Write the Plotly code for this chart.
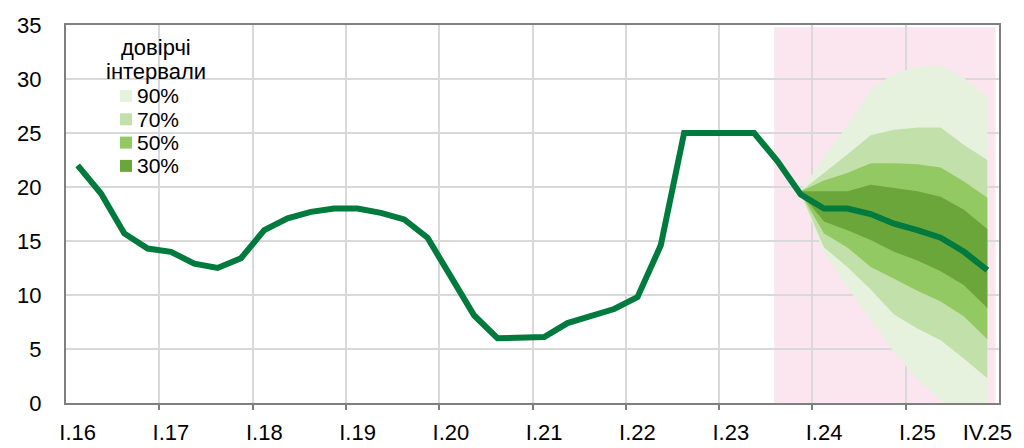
import plotly.graph_objects as go

# ---------------- data ----------------
quarters = [
    "I.16", "II.16", "III.16", "IV.16", "I.17", "II.17", "III.17", "IV.17",
    "I.18", "II.18", "III.18", "IV.18", "I.19", "II.19", "III.19", "IV.19",
    "I.20", "II.20", "III.20", "IV.20", "I.21", "II.21", "III.21", "IV.21",
    "I.22", "II.22", "III.22", "IV.22", "I.23", "II.23", "III.23", "IV.23",
    "I.24", "II.24", "III.24", "IV.24", "I.25", "II.25", "III.25", "IV.25",
]
rate = [
    22.0, 19.4, 15.7, 14.3, 14.0, 12.9, 12.5, 13.4,
    16.0, 17.1, 17.7, 18.0, 18.0, 17.6, 17.0, 15.3,
    11.7, 8.1, 6.0, 6.0, 6.1, 7.4, 8.1, 8.7,
    9.8, 14.6, 25.0, 25.0, 25.0, 25.0, 22.4, 19.3,
    18.0, 18.0, 17.5, 16.6, 16.0, 15.3, 14.0, 12.3,
]
fan_quarters = ["IV.23", "I.24", "II.24", "III.24", "IV.24", "I.25", "II.25", "III.25", "IV.25"]
upper90 = [19.6, 22.8, 25.7, 29.0, 30.5, 31.1, 31.3, 30.1, 28.3]
upper70 = [19.6, 21.3, 23.0, 24.8, 25.3, 25.5, 25.5, 23.9, 22.5]
upper50 = [19.6, 20.6, 21.3, 22.2, 22.2, 22.1, 21.8, 20.5, 19.0]
upper30 = [19.6, 19.6, 19.6, 20.2, 19.9, 19.6, 19.1, 17.9, 16.1]
lower30 = [19.4, 16.8, 16.0, 15.1, 14.0, 13.2, 12.2, 10.9, 8.8]
lower50 = [19.4, 15.7, 14.4, 12.6, 11.5, 10.4, 9.4, 8.0, 5.9]
lower70 = [19.4, 14.4, 12.6, 10.5, 8.2, 6.9, 5.8, 4.1, 2.3]
lower90 = [19.4, 13.9, 10.7, 7.7, 4.7, 2.2, 0.2, -1.0, -2.0]
band_labels = ["90%", "70%", "50%", "30%"]
tick_labels = ["I.16", "I.17", "I.18", "I.19", "I.20", "I.21", "I.22", "I.23", "I.24", "I.25", "IV.25"]
legend_title = ["довірчі", "інтервали"]
forecast_start = "III.23"

# ---------------- styling ----------------
FONT = "Liberation Sans, Arial, sans-serif"
band_colors = ["#E6F2DE", "#C2E0A9", "#93C963", "#6BA63B"]
line_color = "#007A3D"
grid_color = "#D9D9D9"
frame_color = "#7F7F7F"
pink = "#FBE5EE"

pos = {q: i for i, q in enumerate(quarters)}
x_all = [pos[q] for q in quarters]
x_fan = [pos[q] for q in fan_quarters]
grid_x = [pos[t] - 0.5 for t in tick_labels[1:-1]]
label_x = [pos[t] for t in tick_labels]
xr = [-0.5, len(quarters) - 0.5]

fig = go.Figure()

bands = [(lower90, upper90), (lower70, upper70), (lower50, upper50), (lower30, upper30)]
for (lo, hi), col in zip(bands, band_colors):
    fig.add_trace(go.Scatter(x=x_fan, y=lo, mode="lines", line=dict(width=0, color=col),
                             hoverinfo="skip", showlegend=False))
    fig.add_trace(go.Scatter(x=x_fan, y=hi, mode="lines", line=dict(width=0, color=col),
                             fill="tonexty", fillcolor=col, hoverinfo="skip", showlegend=False))

fig.add_trace(go.Scatter(x=x_all, y=rate, mode="lines", xaxis="x2",
                         line=dict(color=line_color, width=6), showlegend=False))

# forecast background
fig.add_shape(type="rect", xref="x", yref="y", x0=pos[forecast_start] - 0.14, x1=len(quarters) - 0.65,
              y0=0, y1=34.8, fillcolor=pink, line=dict(width=0), layer="below")

# custom legend
L, R, T, B = 66, 999, 25, 403
def px(xp):
    return (xp - L) / (R - L)
def py(yp):
    return (B - yp) / (B - T)

for i, txt in enumerate(legend_title):
    fig.add_annotation(x=px(156), y=py(47 + 25 * i), xref="paper", yref="paper", text=txt,
                       showarrow=False, xanchor="center", yanchor="middle",
                       font=dict(family=FONT, size=22, color="#000000"))
for i, (lab, col) in enumerate(zip(band_labels, band_colors)):
    cy = 96 + 23.3 * i
    fig.add_shape(type="rect", xref="paper", yref="paper", x0=px(120), x1=px(132),
                  y0=py(cy + 6), y1=py(cy - 6), fillcolor=col, line=dict(width=0))
    fig.add_annotation(x=px(135), y=py(cy), xref="paper", yref="paper", text=lab,
                       showarrow=False, xanchor="left", yanchor="middle",
                       font=dict(family=FONT, size=21, color="#000000"))

fig.update_layout(
    width=1024, height=448,
    margin=dict(l=L, r=1024 - R, t=T, b=448 - B, autoexpand=False),
    paper_bgcolor="white", plot_bgcolor="white",
    font=dict(family=FONT, size=22, color="#000000"),
    showlegend=False,
    xaxis=dict(range=xr, tickvals=grid_x, ticktext=[""] * len(grid_x), showgrid=True,
               gridcolor=grid_color, gridwidth=2, ticks="outside", ticklen=5, tickwidth=2,
               tickcolor=frame_color, showline=True, mirror=True, linecolor=frame_color,
               linewidth=2, zeroline=False, fixedrange=True),
    xaxis2=dict(range=xr, overlaying="x", anchor="y", side="bottom", tickvals=label_x,
                ticktext=tick_labels, showgrid=False, ticks="", showline=False,
                zeroline=False, ticklabelstandoff=14, tickfont=dict(size=22)),
    yaxis=dict(range=[0, 35], dtick=5, showgrid=True, gridcolor=grid_color, gridwidth=2,
               ticks="", showline=True, mirror=True, linecolor=frame_color, linewidth=2,
               zeroline=False, ticklabelstandoff=18, tickfont=dict(size=22)),
)

fig.write_html("out.html", config={"displayModeBar": False},
               post_script="document.body.style.margin='0';document.body.style.overflow='hidden';")
